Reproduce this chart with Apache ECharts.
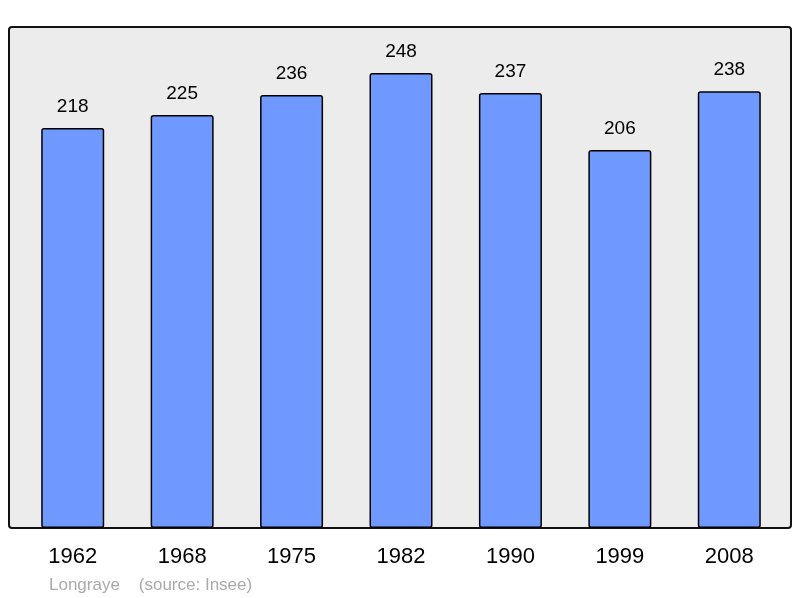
<!DOCTYPE html>
<html>
<head>
<meta charset="utf-8">
<script src="https://cdn.jsdelivr.net/npm/echarts@6/dist/echarts.min.js"></script>
<style>
  html, body { margin: 0; padding: 0; background: #fff; }
  #chart { width: 800px; height: 598px; }
</style>
</head>
<body>
<div id="chart"></div>
<script>
// population by census year
var years = ['1962', '1968', '1975', '1982', '1990', '1999', '2008']
var population = [218, 225, 236, 248, 237, 206, 238]

var myChart = echarts.init(document.getElementById('chart'))

var option = {
  animation: false,
  textStyle: { fontFamily: 'Liberation Sans' },
  title: {
    text: 'Longraye    (source: Insee)',
    left: 44,
    top: 572,
    textStyle: { color: '#aaaaaa', fontSize: 17, fontWeight: 'normal' }
  },
  graphic: [{
    type: 'rect',
    z: -10,
    shape: { x: 9, y: 27, width: 782, height: 501, r: 3 },
    style: { fill: '#ececec', stroke: '#111', lineWidth: 2 }
  }],
  grid: { left: 18, right: 16, top: 27, bottom: 70 },
  xAxis: {
    type: 'category',
    data: years,
    axisLine: { show: false },
    axisTick: { show: false },
    axisLabel: { color: '#000', fontSize: 22, margin: 18 }
  },
  yAxis: {
    type: 'value',
    min: 0,
    max: 273,
    show: false,
    splitLine: { show: false }
  },
  series: [{
    type: 'bar',
    data: population,
    barWidth: 63,
    itemStyle: {
      color: '#7099ff',
      borderColor: '#000',
      borderWidth: 1.5,
      borderRadius: 2
    },
    label: {
      show: true,
      position: 'top',
      distance: 12,
      color: '#000',
      fontSize: 19
    }
  }]
}

myChart.setOption(option)
</script>
</body>
</html>
